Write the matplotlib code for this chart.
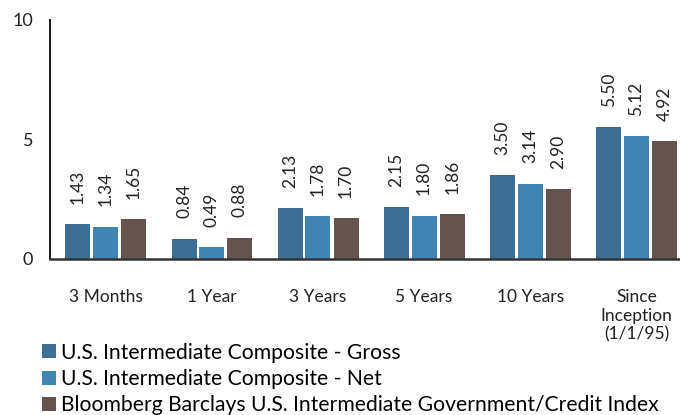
import numpy as np
import matplotlib.pyplot as plt

plt.rcParams['font.family'] = ['Lato', 'DejaVu Sans']

periods = ['3 Months', '1 Year', '3 Years', '5 Years', '10 Years', 'Since\nInception\n(1/1/95)']
gross = [1.43, 0.84, 2.13, 2.15, 3.50, 5.50]
net = [1.34, 0.49, 1.78, 1.80, 3.14, 5.12]
index = [1.65, 0.88, 1.70, 1.86, 2.90, 4.92]
series_names = ['U.S. Intermediate Composite - Gross',
                'U.S. Intermediate Composite - Net',
                'Bloomberg Barclays U.S. Intermediate Government/Credit Index']
colors = ['#3d6f95', '#4084b4', '#65544d']

fig = plt.figure(figsize=(6.8, 4.15), dpi=100)
ax = fig.add_axes([0.0735, 0.377, 0.9265, 0.575])

x = np.arange(len(periods))
offsets = [-0.26, 0.0, 0.265]
w = 0.235
handles = []
for vals, off, c, name in zip([gross, net, index], offsets, colors, series_names):
    b = ax.bar(x + off, vals, width=w, color=c, label=name)
    handles.append(b)
    for xi, v in zip(x, vals):
        ax.annotate('%.2f' % v, (xi + off, v), xytext=(0, 14.5), textcoords='offset points',
                    rotation=90, ha='center', va='bottom', fontsize=12.5, color='#222222')

ax.set_xlim(-0.523, 5.41)
ax.set_ylim(0, 10)
ax.set_yticks([0, 5, 10])
ax.set_xticks(x)
ax.set_xticklabels(periods, fontsize=12.5, color='#222222', linespacing=1.2)
ax.tick_params(axis='x', length=0, pad=22)
ax.tick_params(axis='y', length=0, pad=12, labelsize=13, labelcolor='#222222')

for s in ['top', 'right']:
    ax.spines[s].set_visible(False)
ax.spines['left'].set_color('#1a1a1a')
ax.spines['left'].set_linewidth(1.4)
ax.spines['bottom'].set_color('#333333')
ax.spines['bottom'].set_linewidth(1.8)

fig.legend(handles=handles, loc='upper left', bbox_to_anchor=(0.062, 0.174),
           frameon=False, fontsize=15.2, handlelength=0.65, handleheight=0.65,
           handletextpad=0.25, labelspacing=0.3, borderpad=0, borderaxespad=0)

fig.savefig('out.png', dpi=100)
